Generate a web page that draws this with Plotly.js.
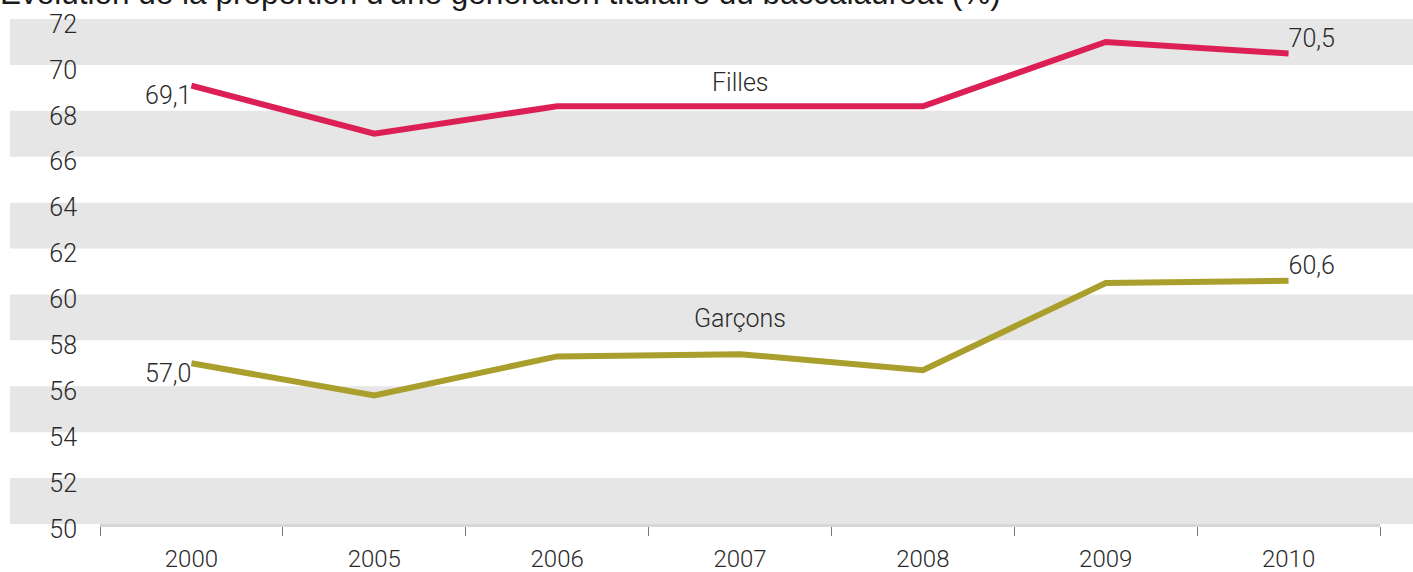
<!DOCTYPE html>
<html>
<head>
<meta charset="utf-8">
<script src="https://cdn.plot.ly/plotly-3.0.1.min.js"></script>
<style>
html,body{margin:0;padding:0;background:#fff;}
#chart{width:1413px;height:572px;}
</style>
</head>
<body>
<div id="chart"></div>
<script>
var years = ["2000", "2005", "2006", "2007", "2008", "2009", "2010"];
var filles = [69.1, 67.0, 68.2, 68.2, 68.2, 71.0, 70.5];
var garcons = [57.0, 55.6, 57.3, 57.4, 56.7, 60.5, 60.6];
var yTicks = [50, 52, 54, 56, 58, 60, 62, 64, 66, 68, 70, 72];
var seriesNames = ["Filles", "Garçons"];
var titleText = "Évolution de la proportion d'une génération titulaire du baccalauréat (%)";

var FONT = 'Roboto, "Noto Sans", sans-serif';
var yMin = 50, yMax = 72;

function endLabels(vals) {
  return vals.map(function (v, i) {
    return (i === 0 || i === vals.length - 1) ? v.toFixed(1).replace('.', ',') : '';
  });
}
function endPos(vals) {
  return vals.map(function (v, i) {
    return i === 0 ? 'bottom left' : 'top right';
  });
}

var traces = [
  {
    x: years, y: filles, type: 'scatter', mode: 'lines+text',
    line: {color: '#dc1f55', width: 6},
    text: endLabels(filles), textposition: endPos(filles),
    textfont: {family: FONT, size: 25, color: '#2a2a2a', weight: 300},
    cliponaxis: false, hoverinfo: 'skip', name: seriesNames[0]
  },
  {
    x: years, y: garcons, type: 'scatter', mode: 'lines+text',
    line: {color: '#aa9e2c', width: 6},
    text: endLabels(garcons), textposition: endPos(garcons),
    textfont: {family: FONT, size: 25, color: '#2a2a2a', weight: 300},
    cliponaxis: false, hoverinfo: 'skip', name: seriesNames[1]
  }
];

var shapes = [];
for (var i = 0; i < yTicks.length - 1; i += 2) {
  var lo = yTicks[i], hi = yTicks[i + 1];
  shapes.push({
    type: 'rect', xref: 'paper', yref: 'paper',
    x0: -0.0703, x1: 1.03,
    y0: (lo - yMin) / (yMax - yMin), y1: (hi - yMin) / (yMax - yMin),
    fillcolor: '#e6e6e6', line: {width: 0}, layer: 'below'
  });
}

var layout = {
  width: 1413, height: 572,
  margin: {l: 100, r: 33, t: 19, b: 48},
  paper_bgcolor: '#ffffff', plot_bgcolor: 'rgba(0,0,0,0)',
  showlegend: false,
  title: {
    text: titleText,
    font: {family: '"Liberation Sans", Arial, sans-serif', size: 31.5, color: '#1a1a1a'},
    xref: 'container', x: 0, xanchor: 'left',
    yref: 'container', y: 0.9935, yanchor: 'bottom'
  },
  xaxis: {
    type: 'category', range: [-0.5, 6.5],
    showgrid: false, zeroline: false,
    showline: true, linecolor: '#d6d6d6', linewidth: 3,
    ticks: 'outside', tickson: 'boundaries', ticklen: 9, tickwidth: 1, tickcolor: '#777',
    ticklabelstandoff: 11,
    tickfont: {family: FONT, size: 24, color: '#2a2a2a', weight: 300},
    fixedrange: true
  },
  yaxis: {
    range: [yMin, yMax], tickvals: yTicks,
    ticktext: yTicks.map(String),
    showgrid: false, zeroline: false, showline: false,
    ticks: '', ticklabelstandoff: 22, ticklabelshift: 5,
    tickfont: {family: FONT, size: 25, color: '#2a2a2a', weight: 300},
    fixedrange: true
  },
  shapes: shapes,
  annotations: [
    {x: 3, y: 69.25, xref: 'x', yref: 'y', text: seriesNames[0], showarrow: false,
     font: {family: FONT, size: 25, color: '#2a2a2a', weight: 300}},
    {x: 3, y: 58.95, xref: 'x', yref: 'y', text: seriesNames[1], showarrow: false,
     font: {family: FONT, size: 25, color: '#2a2a2a', weight: 300}}
  ]
};

Plotly.newPlot('chart', traces, layout, {displayModeBar: false, staticPlot: true});
</script>
</body>
</html>
